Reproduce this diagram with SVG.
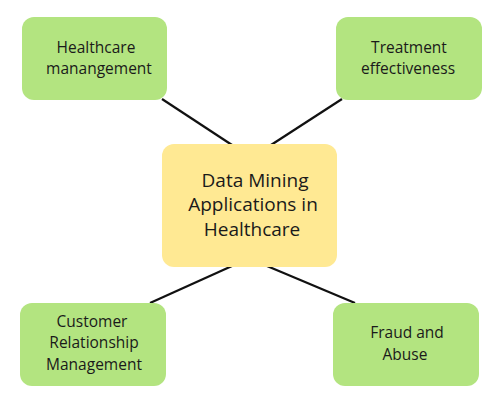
<svg xmlns="http://www.w3.org/2000/svg" width="500" height="400" viewBox="0 0 500 400">
<style>
.leaf{fill:#b3e480;}
.hub{fill:#ffe993;}
text{font-family:"Open Sans","Liberation Sans",sans-serif;fill:#1a1a1a;text-anchor:middle;}
.s{font-size:15.5px;}
.b{font-size:19px;}
.c line{stroke:#111;stroke-width:2.2;}
</style>
<rect width="500" height="400" fill="#fff"/>
<g class="c" id="connectors">
<line x1="162" y1="99" x2="232" y2="145"/>
<line x1="342" y1="99" x2="271" y2="145"/>
<line x1="232" y1="266" x2="150" y2="303"/>
<line x1="267" y1="266" x2="355" y2="303"/>
</g>
<g id="hub">
<rect class="hub" x="162" y="144" width="175" height="123" rx="12"/>
<text class="b" x="255" y="187">Data Mining</text>
<text class="b" x="253" y="211">Applications in</text>
<text class="b" x="252" y="236">Healthcare</text>
</g>
<g id="healthcare-management">
<rect class="leaf" x="22" y="17" width="145" height="83" rx="12"/>
<text class="s" x="96" y="53">Healthcare</text>
<text class="s" x="99" y="74">manangement</text>
</g>
<g id="treatment-effectiveness">
<rect class="leaf" x="336" y="17" width="146" height="83" rx="12"/>
<text class="s" x="409" y="53">Treatment</text>
<text class="s" x="408" y="74">effectiveness</text>
</g>
<g id="crm">
<rect class="leaf" x="20" y="303" width="146" height="83" rx="12"/>
<text class="s" x="92" y="327">Customer</text>
<text class="s" x="94" y="348">Relationship</text>
<text class="s" x="94" y="370">Management</text>
</g>
<g id="fraud-abuse">
<rect class="leaf" x="333" y="303" width="146" height="83" rx="12"/>
<text class="s" x="407" y="338">Fraud and</text>
<text class="s" x="405" y="360">Abuse</text>
</g>
</svg>
